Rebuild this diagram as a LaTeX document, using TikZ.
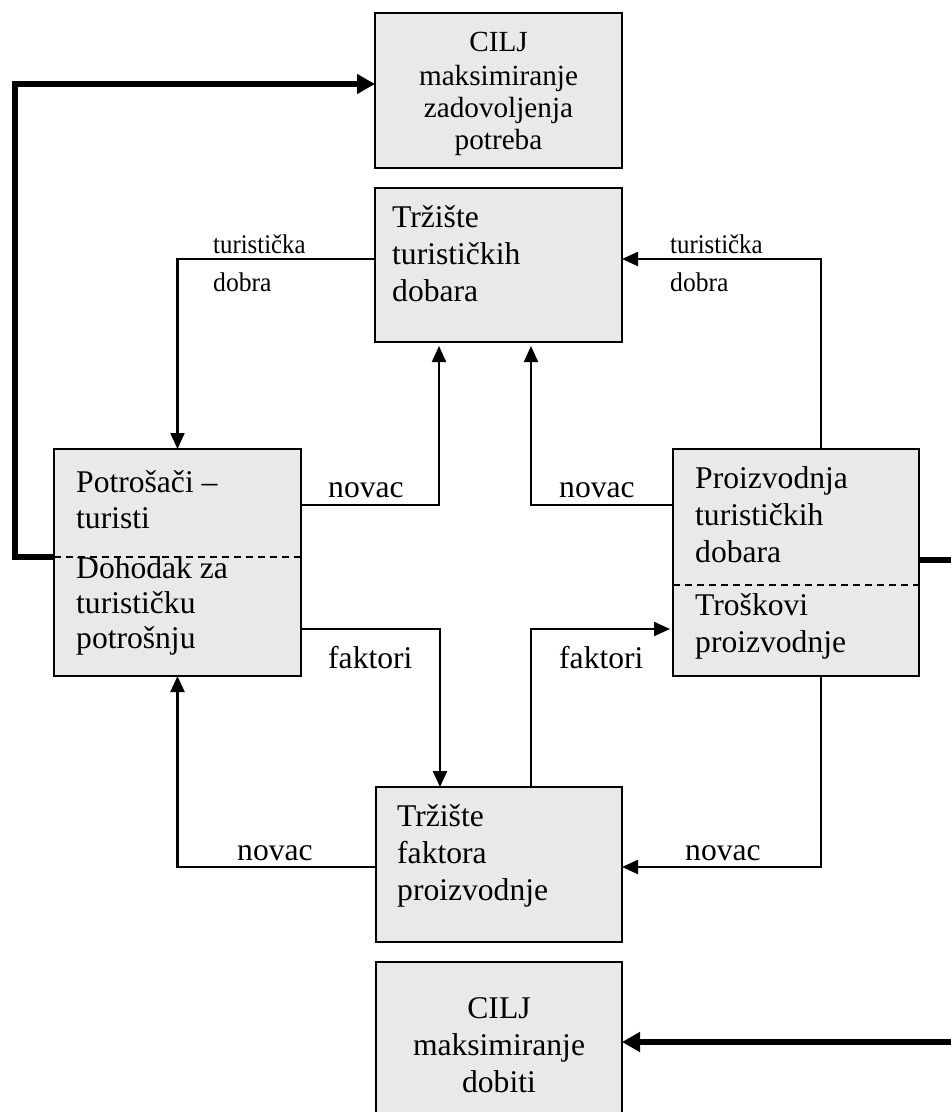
\documentclass[tikz,border=0pt]{standalone}
\usepackage{fontspec}
\usepackage{graphicx}
\setmainfont{Liberation Serif}
\usetikzlibrary{arrows.meta}
\definecolor{boxgray}{RGB}{233,233,233}
\begin{document}
\begin{tikzpicture}[x=1pt,y=-1pt,
  box/.style={draw, line width=1.8pt, fill=boxgray, inner sep=0pt, outer sep=0pt, anchor=north west},
  txt/.style={anchor=base west, inner sep=0pt, font=\fontsize{31.6}{37}\selectfont},
  ctxt/.style={anchor=base, inner sep=0pt, font=\fontsize{31.6}{37}\selectfont},
  stxt/.style={anchor=base, inner sep=0pt, font=\fontsize{29.2}{33}\selectfont},
  lbl/.style={anchor=base west, inner sep=0pt, font=\fontsize{27}{30}\selectfont},
  flow/.style={line width=2.2pt, -{Triangle[length=16pt,width=14pt]}},
  big/.style={line width=5.5pt, -{Triangle[length=18pt,width=19pt]}},
  divider/.style={line width=1.5pt, dash pattern=on 7pt off 5pt}
]
\useasboundingbox (0,0) rectangle (951,1112);

% boxes
\node[box, minimum width=247pt, minimum height=155pt] (cilja) at (375,13) {};
\node[box, minimum width=247pt, minimum height=154pt] (tt) at (375,188) {};
\node[box, minimum width=247pt, minimum height=227pt] (pt) at (54,449) {};
\node[box, minimum width=246pt, minimum height=227pt] (pr) at (673,449) {};
\node[box, minimum width=246pt, minimum height=155pt] (tf) at (376,787) {};
\node[box, minimum width=246pt, minimum height=175pt] (ciljb) at (376,962) {};

% dividers
\draw[divider] (pt.west |- 0,557) -- (pt.east |- 0,557);
\draw[divider] (pr.west |- 0,585) -- (pr.east |- 0,585);

% box texts
\node[stxt] (c1) at (498.5,51) {CILJ};
\node[stxt] (c2) at (498.5,85) {maksimiranje};
\node[stxt] (c3) at (498.5,117) {zadovoljenja};
\node[stxt] (c4) at (498.5,149) {potreba};

\node[txt] (tt1) at (392,227) {Tržište};
\node[txt] (tt2) at (392,264) {turističkih};
\node[txt] (tt3) at (392,301) {dobara};

\node[txt] (pt1) at (76,492) {Potrošači –};
\node[txt] (pt2) at (76,528) {turisti};
\node[txt] (pt3) at (76,578) {Dohodak za};
\node[txt] (pt4) at (76,613) {turističku};
\node[txt] (pt5) at (76,648) {potrošnju};

\node[txt] (pr1) at (695,488) {Proizvodnja};
\node[txt] (pr2) at (695,525) {turističkih};
\node[txt] (pr3) at (695,562) {dobara};
\node[txt] (pr4) at (695,615) {Troškovi};
\node[txt] (pr5) at (695,652) {proizvodnje};

\node[txt] (tf1) at (397,826) {Tržište};
\node[txt] (tf2) at (397,863) {faktora};
\node[txt] (tf3) at (397,900) {proizvodnje};

\node[ctxt] (d1) at (499,1018) {CILJ};
\node[ctxt] (d2) at (499,1055) {maksimiranje};
\node[ctxt] (d3) at (499,1092) {dobiti};

% labels
\node[lbl] (la1) at (213,253) {\scalebox{0.92}[1]{turistička}};
\node[lbl] (la2) at (213,291) {\scalebox{0.95}[1]{dobra}};
\node[lbl] (lb1) at (670,253) {\scalebox{0.92}[1]{turistička}};
\node[lbl] (lb2) at (670,291) {\scalebox{0.95}[1]{dobra}};
\node[txt] (nv1) at (328,497) {novac};
\node[txt] (nv2) at (559,497) {novac};
\node[txt] (fk1) at (328,668) {faktori};
\node[txt] (fk2) at (559,668) {faktori};
\node[txt] (nv3) at (237,860) {novac};
\node[txt] (nv4) at (685,860) {novac};

% thin connectors
\draw[flow] ([yshift=6pt]tt.west) -| (pt.north);
\draw[flow] ([xshift=25pt]pr.north) |- ([yshift=6pt]tt.east);
\draw[flow, shorten >=4pt] ([yshift=57.5pt]pr.west) -| ([xshift=32.5pt]tt.south);
\draw[flow, shorten >=4pt] ([yshift=57.5pt]pt.east) -| ([xshift=-59.5pt]tt.south);
\draw[flow] ([yshift=-66.5pt]pt.east) -| ([xshift=-59pt]tf.north);
\draw[flow, shorten >=3pt] ([xshift=32pt]tf.north) |- ([yshift=-66.5pt]pr.west);
\draw[flow] ([yshift=-2.5pt]tf.west) -| (pt.south);
\draw[flow] ([xshift=25pt]pr.south) |- ([yshift=-2.5pt]tf.east);

% thick connectors
\draw[big] ([yshift=5.5pt]pt.west) -- ++(-39,0) |- ([yshift=6.5pt]cilja.west);
\draw[big] ([yshift=2.5pt]pr.east) -- ++(60,0) |- ([yshift=7.5pt]ciljb.east);
\end{tikzpicture}
\end{document}
